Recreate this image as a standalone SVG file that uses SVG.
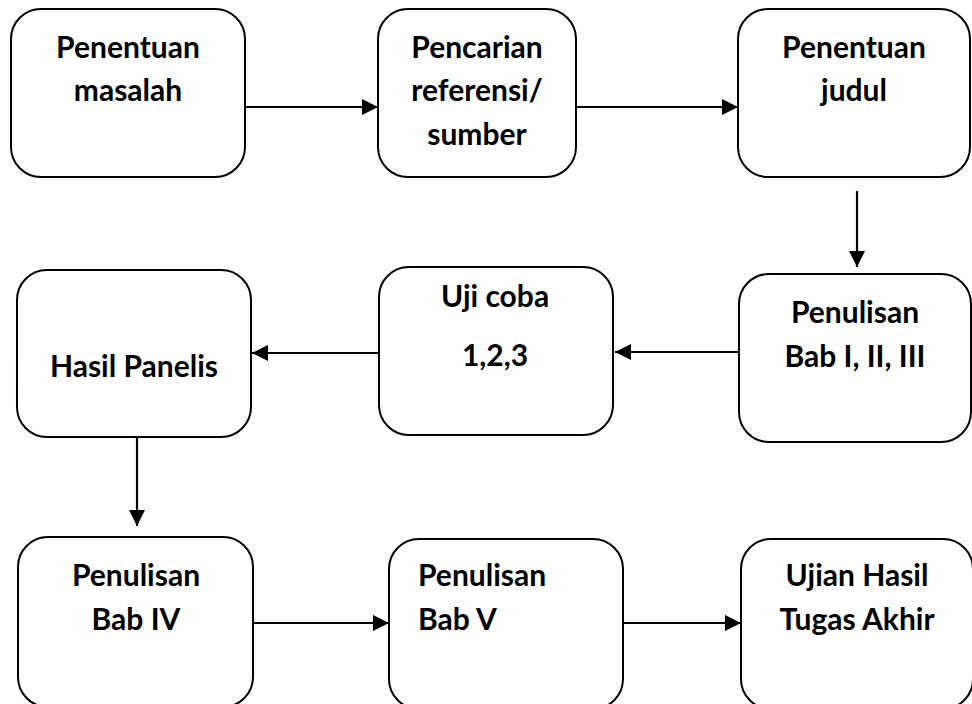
<svg xmlns="http://www.w3.org/2000/svg" width="972" height="704" viewBox="0 0 972 704">
<style>
.box{fill:#fff;stroke:#000;stroke-width:2}
.lbl{font-family:Lato,"Open Sans","Liberation Sans",sans-serif;font-weight:bold;font-size:30px;fill:#000}
.c{text-anchor:middle}
.edge{stroke:#000;stroke-width:2.2;fill:none;marker-end:url(#ah)}
</style>
<defs>
<marker id="ah" viewBox="0 0 16 16" refX="16" refY="8" markerWidth="16" markerHeight="16" markerUnits="userSpaceOnUse" orient="auto">
<path d="M0,0 L16,8 L0,16 Z" fill="#000"/>
</marker>
</defs>
<rect width="972" height="704" fill="#fff"/>
<g id="connectors">
<line class="edge" x1="245" y1="107" x2="378" y2="107"/>
<line class="edge" x1="576" y1="107" x2="738" y2="107"/>
<line class="edge" x1="857" y1="191" x2="857" y2="267"/>
<line class="edge" x1="738" y1="352" x2="615" y2="352"/>
<line class="edge" x1="378" y1="353" x2="252" y2="353"/>
<line class="edge" x1="137" y1="437" x2="137" y2="526"/>
<line class="edge" x1="253" y1="623" x2="389" y2="623"/>
<line class="edge" x1="623" y1="623" x2="741" y2="623"/>
</g>
<g id="n1">
<rect class="box" x="11" y="9" width="234" height="168" rx="30"/>
<text class="lbl c" x="128" y="58">Penentuan</text>
<text class="lbl c" x="128" y="101">masalah</text>
</g>
<g id="n2">
<rect class="box" x="378" y="9" width="198" height="168" rx="30"/>
<text class="lbl c" x="477" y="58">Pencarian</text>
<text class="lbl c" x="477" y="101">referensi/</text>
<text class="lbl c" x="477" y="145">sumber</text>
</g>
<g id="n3">
<rect class="box" x="738" y="9" width="232" height="168" rx="30"/>
<text class="lbl c" x="854" y="58">Penentuan</text>
<text class="lbl c" x="854" y="101">judul</text>
</g>
<g id="n4">
<rect class="box" x="739" y="274" width="232" height="168" rx="30"/>
<text class="lbl c" x="855" y="323">Penulisan</text>
<text class="lbl c" x="855" y="367">Bab I, II, III</text>
</g>
<g id="n5">
<rect class="box" x="379" y="267" width="234" height="168" rx="30"/>
<text class="lbl c" x="495" y="307">Uji coba</text>
<text class="lbl c" x="495" y="366">1,2,3</text>
</g>
<g id="n6">
<rect class="box" x="17" y="270" width="234" height="167" rx="30"/>
<text class="lbl c" x="134" y="377">Hasil Panelis</text>
</g>
<g id="n7">
<rect class="box" x="18" y="537" width="235" height="170" rx="30"/>
<text class="lbl c" x="136" y="586">Penulisan</text>
<text class="lbl c" x="136" y="630">Bab IV</text>
</g>
<g id="n8">
<rect class="box" x="389" y="539" width="234" height="170" rx="30"/>
<text class="lbl" x="418" y="586">Penulisan</text>
<text class="lbl" x="418" y="630">Bab V</text>
</g>
<g id="n9">
<rect class="box" x="741" y="539" width="232" height="170" rx="30"/>
<text class="lbl c" x="857" y="586">Ujian Hasil</text>
<text class="lbl c" x="857" y="630">Tugas Akhir</text>
</g>
</svg>
